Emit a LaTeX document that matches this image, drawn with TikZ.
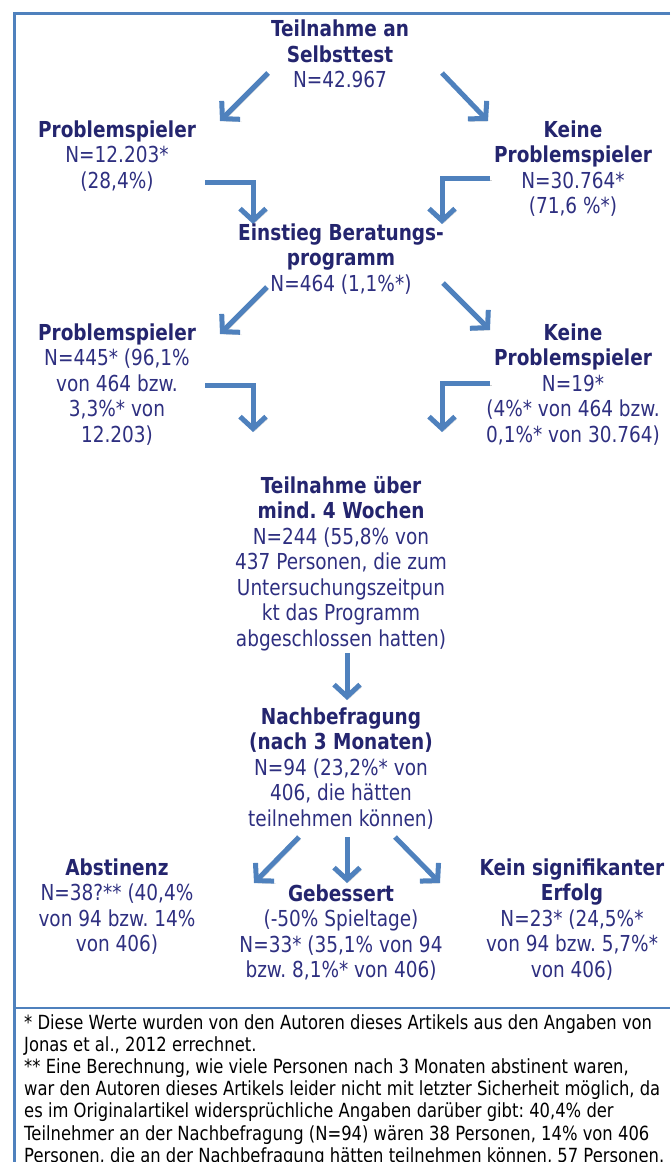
\documentclass[tikz,border=0pt]{standalone}
\usepackage{fontspec}
\setmainfont{DejaVu Sans}[FakeStretch=0.84]
\usepackage{xcolor}
\usetikzlibrary{arrows.meta, positioning, calc}
\definecolor{blau}{RGB}{79,129,189}
\definecolor{titel}{RGB}{36,37,110}
\definecolor{zahl}{RGB}{46,47,128}
\newcommand{\kopf}[1]{\textbf{\textcolor{titel}{#1}}}
\frenchspacing

\begin{document}
\begin{tikzpicture}[x=1pt, y=-1pt,
    feld/.style={anchor=base, align=center, inner sep=0pt, text=zahl,
      font=\fontsize{22}{25.5}\selectfont},
    fussnote/.style={anchor=base west, align=left, inner sep=0pt, text=black,
      font=\fontsize{19.5}{22.2}\selectfont},
    pfeil/.style={blau, line width=5pt, line join=miter,
      -{Straight Barb[length=12pt, width=26pt]},
      preaction={draw=black!18, transform canvas={xshift=1.5pt, yshift=-2.5pt}}},
    rahmen/.style={blau, line width=2.7pt}]
    \useasboundingbox (0,0) rectangle (670,1162);

    % Rahmen und Trennlinie
    \draw [rahmen] (670,13.7) -| (14.7,1162);
    \draw [rahmen] (14.7,1008) -- (670,1008);

    % Endpunkte der Pfeile
    \coordinate (A1) at (268,73);
    \coordinate (B1) at (220,121);
    \coordinate (A2) at (442,73);
    \coordinate (B2) at (488,121);
    \coordinate (C1) at (205,182);
    \coordinate (D1) at (253,224);
    \coordinate (C2) at (490,178);
    \coordinate (D2) at (442,224);
    \coordinate (A3) at (267,287);
    \coordinate (B3) at (220,334);
    \coordinate (A4) at (443,283);
    \coordinate (B4) at (490,330);
    \coordinate (C3) at (205,385);
    \coordinate (D3) at (253,432);
    \coordinate (C4) at (490,383);
    \coordinate (D4) at (442,432);
    \coordinate (E1) at (347,653);
    \coordinate (F1) at (347,700);
    \coordinate (G1) at (299,837);
    \coordinate (H1) at (254,883);
    \coordinate (G2) at (347,837);
    \coordinate (H2) at (347,883);
    \coordinate (G3) at (395,837);
    \coordinate (H3) at (440,883);

    % Pfeile
    \draw [pfeil] (A1) -- (B1);
    \draw [pfeil] (A2) -- (B2);
    \draw [pfeil] (C1) -| (D1);
    \draw [pfeil] (C2) -| (D2);
    \draw [pfeil] (A3) -- (B3);
    \draw [pfeil] (A4) -- (B4);
    \draw [pfeil] (C3) -| (D3);
    \draw [pfeil] (C4) -| (D4);
    \draw [pfeil] (E1) -- (F1);
    \draw [pfeil] (G1) -- (H1);
    \draw [pfeil] (G2) -- (H2);
    \draw [pfeil] (G3) -- (H3);

    % Kaesten (base = Grundlinie der letzten Zeile)
    \node [feld] (selbsttest) at (340,87.5) {\kopf{Teilnahme an}\\
      \kopf{Selbsttest}\\N=42.967};
    \node [feld] (problem1) at (117,188) {\kopf{Problemspieler}\\
      N=12.203*\\(28,4\%)};
    \node [feld] (keine1) at (573,213.5) {\kopf{Keine}\\\kopf{Problemspieler}\\
      N=30.764*\\(71,6 \%*)};
    \node [feld] (einstieg) at (341,291) {\kopf{Einstieg Beratungs-}\\
      \kopf{programm}\\N=464 (1,1\%*)};
    \node [feld] (problem2) at (117,442) {\kopf{Problemspieler}\\
      N=445* (96,1\%\\von 464 bzw.\\3,3\%* von\\12.203)};
    \node [feld] (keine2) at (573,442) {\kopf{Keine}\\\kopf{Problemspieler}\\
      N=19*\\(4\%* von 464 bzw.\\0,1\%* von 30.764)};
    \node [feld] (wochen) at (341,646) {\kopf{Teilnahme über}\\
      \kopf{mind. 4 Wochen}\\N=244 (55,8\% von\\437 Personen, die zum\\
      Untersuchungszeitpun\\kt das Programm\\abgeschlossen hatten)};
    \node [feld] (nachbefragung) at (341,826) {\kopf{Nachbefragung}\\
      \kopf{(nach 3 Monaten)}\\N=94 (23,2\%* von\\406, die hätten\\
      teilnehmen können)};
    \node [feld] (abstinenz) at (117,951.5) {\kopf{Abstinenz}\\
      N=38?** (40,4\%\\von 94 bzw. 14\%\\von 406)};
    \node [feld] (gebessert) at (341,977.5) {\kopf{Gebessert}\\
      (-50\% Spieltage)\\N=33* (35,1\% von 94\\bzw. 8,1\%* von 406)};
    \node [feld] (erfolg) at (572,977) {\kopf{Kein signifikanter}\\
      \kopf{Erfolg}\\N=23* (24,5\%*\\von 94 bzw. 5,7\%*\\von 406)};

    % Fussnoten
    \node [fussnote] (anmerkung) at (24,1162.2) {* Diese Werte wurden von den
      Autoren dieses Artikels aus den Angaben von\\
      Jonas et al., 2012 errechnet.\\
      ** Eine Berechnung, wie viele Personen nach 3 Monaten abstinent waren,\\
      war den Autoren dieses Artikels leider nicht mit letzter Sicherheit
      möglich, da\\
      es im Originalartikel widersprüchliche Angaben darüber gibt: 40,4\%
      der\\
      Teilnehmer an der Nachbefragung (N=94) wären 38 Personen, 14\% von
      406\\
      Personen, die an der Nachbefragung hätten teilnehmen können, 57
      Personen.};
  \end{tikzpicture}
\end{document}
